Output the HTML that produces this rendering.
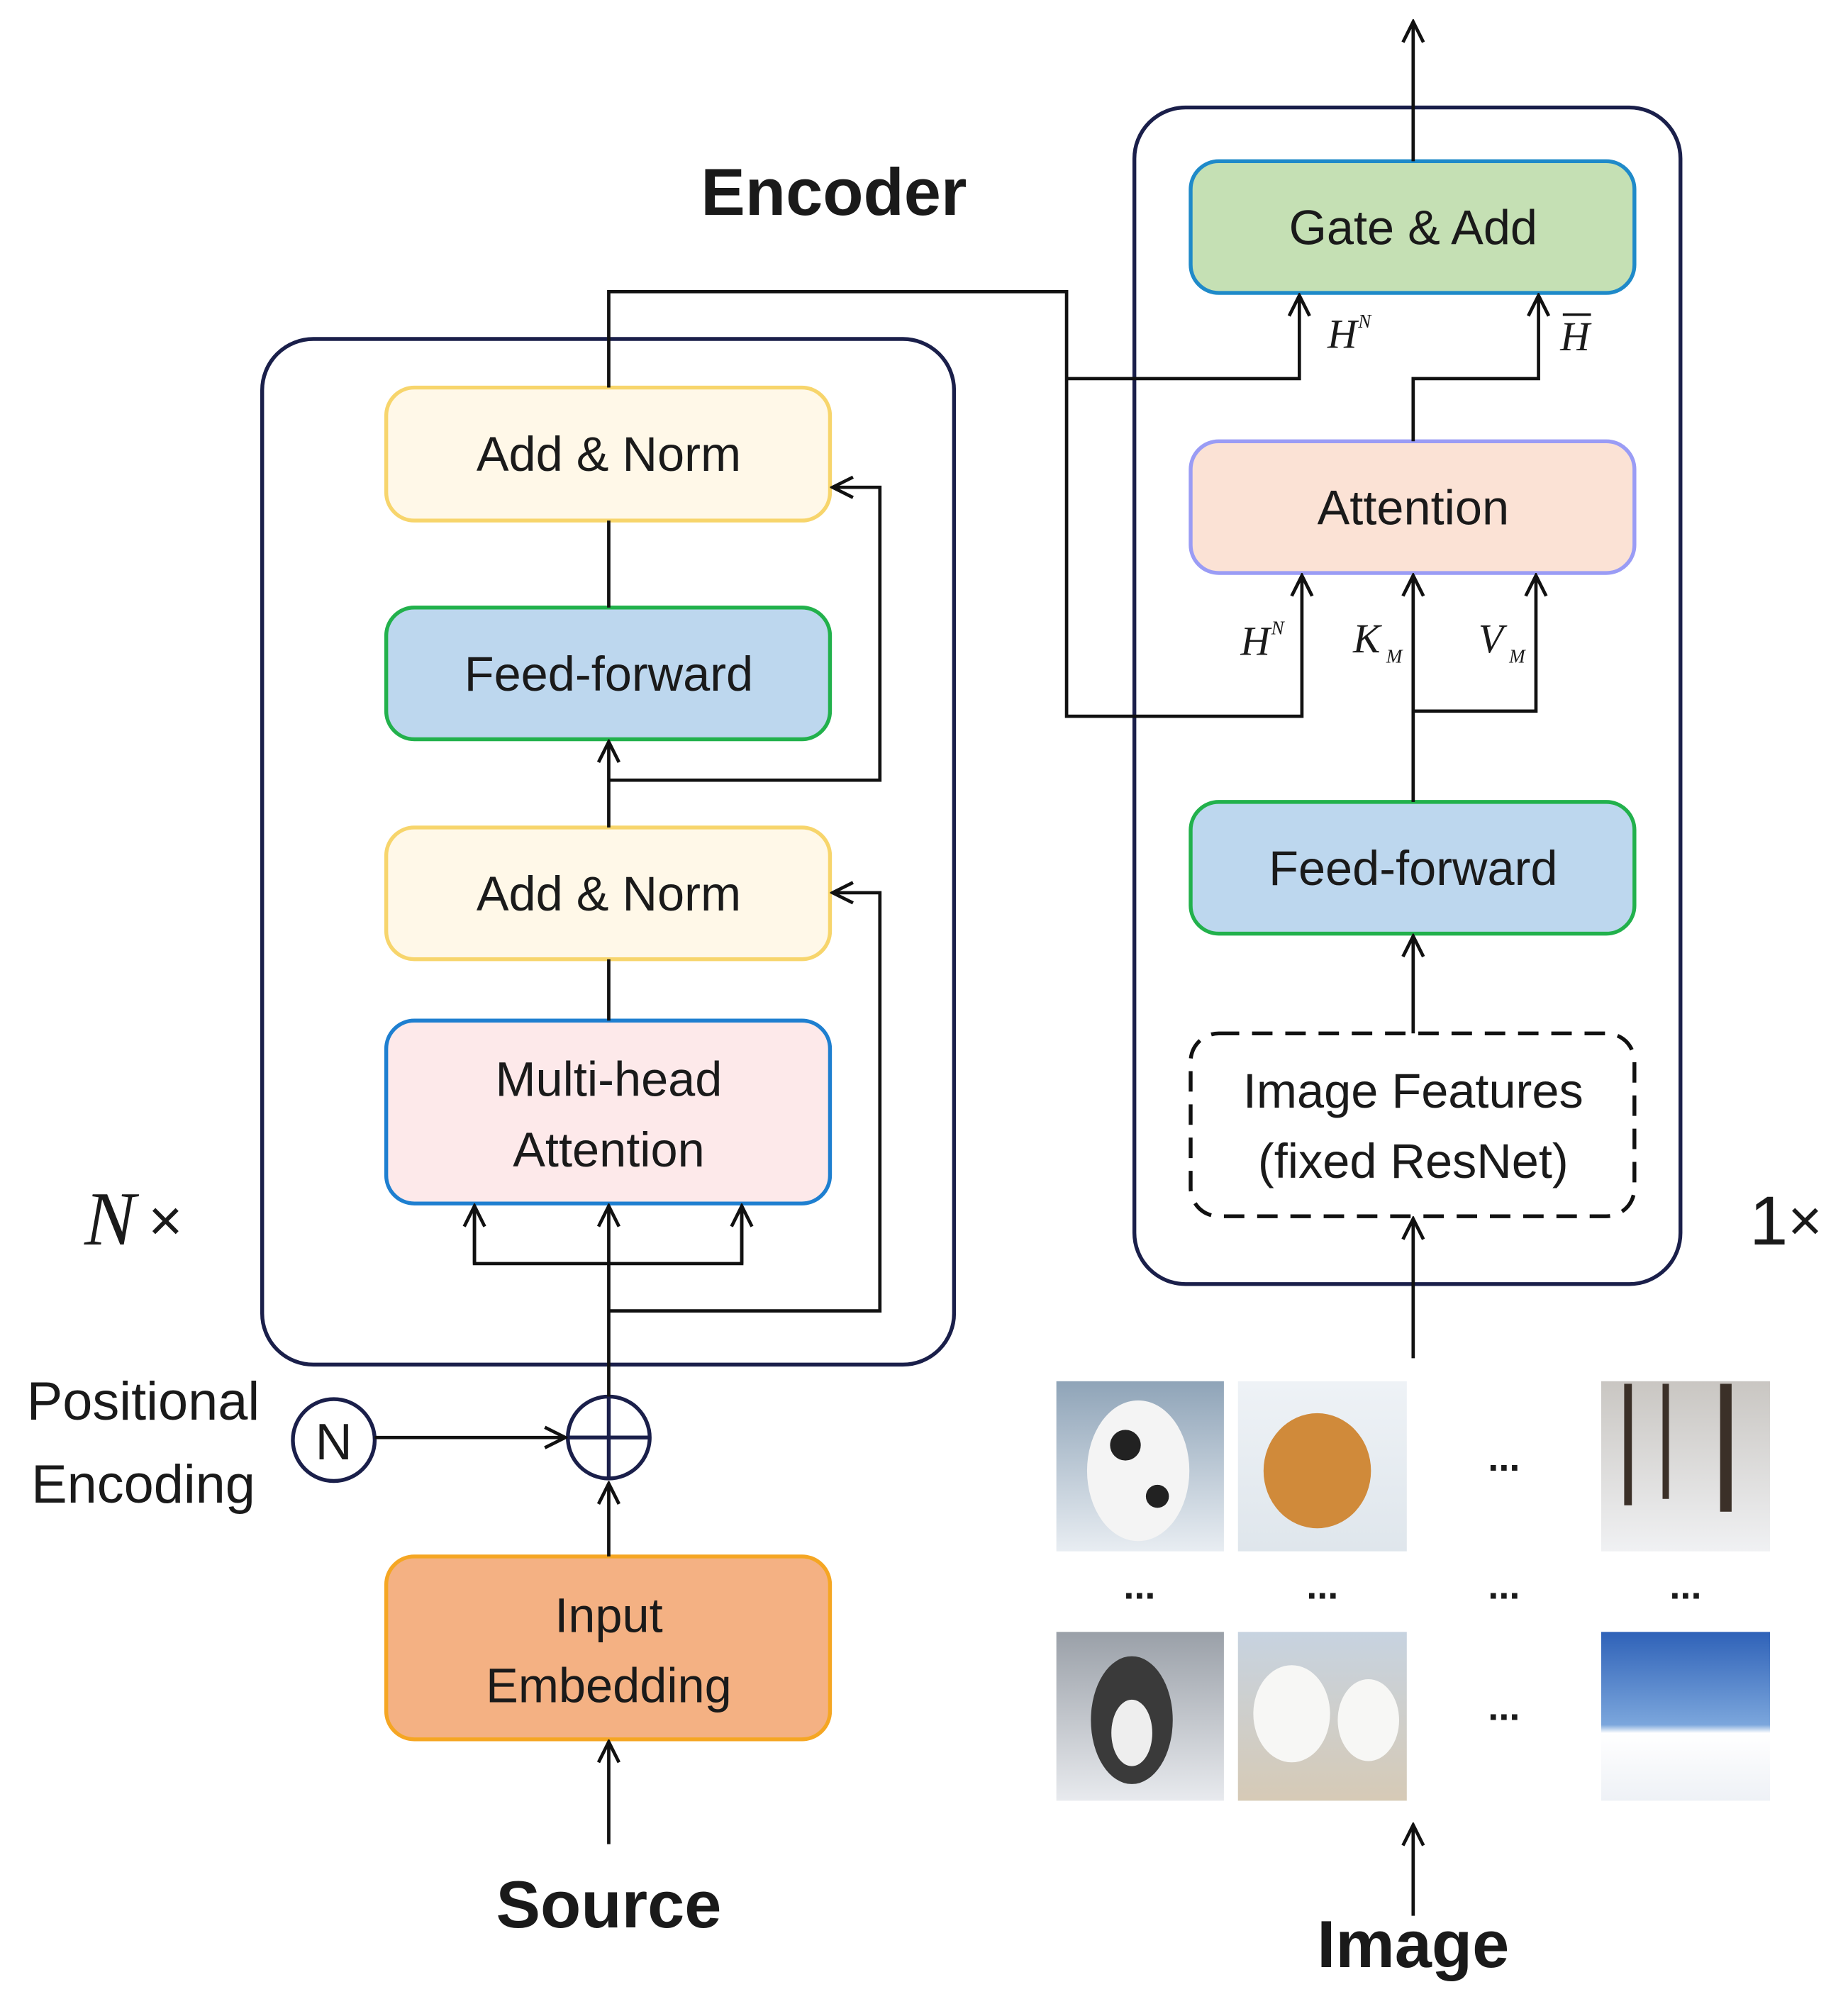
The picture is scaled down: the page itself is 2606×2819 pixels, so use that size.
<!DOCTYPE html>
<html><head><meta charset="utf-8"><style>
html,body{margin:0;padding:0;background:#fff;}
svg{display:block;}
text{font-family:"Liberation Sans","DejaVu Sans",sans-serif;fill:#1a1a1a;}
.it{font-family:"Liberation Serif",serif;font-style:italic;}
</style></head><body>
<svg width="2606" height="2819" viewBox="0 0 1445 1563" xmlns="http://www.w3.org/2000/svg">
<defs>
<marker id="a" viewBox="0 0 20 20" refX="18" refY="10" markerWidth="20" markerHeight="20" markerUnits="userSpaceOnUse" orient="auto">
<path d="M2,2 L18,10 L2,18" fill="none" stroke="#111" stroke-width="2.6"/>
</marker>
<linearGradient id="g1" x1="0" y1="0" x2="0" y2="1"><stop offset="0" stop-color="#8fa4b8"/><stop offset="1" stop-color="#e8edf2"/></linearGradient>
<linearGradient id="g2" x1="0" y1="0" x2="0" y2="1"><stop offset="0" stop-color="#eef2f6"/><stop offset="1" stop-color="#dfe6ec"/></linearGradient>
<linearGradient id="g3" x1="0" y1="0" x2="0" y2="1"><stop offset="0" stop-color="#c9c6c2"/><stop offset="1" stop-color="#f0f1f3"/></linearGradient>
<linearGradient id="g4" x1="0" y1="0" x2="0" y2="1"><stop offset="0" stop-color="#9aa0a8"/><stop offset="1" stop-color="#e8eaee"/></linearGradient>
<linearGradient id="g5" x1="0" y1="0" x2="0" y2="1"><stop offset="0" stop-color="#c7d3e0"/><stop offset="1" stop-color="#d6cab6"/></linearGradient>
<linearGradient id="g6" x1="0" y1="0" x2="0" y2="1"><stop offset="0" stop-color="#2f62b8"/><stop offset="0.55" stop-color="#7ba6dc"/><stop offset="0.6" stop-color="#ffffff"/><stop offset="1" stop-color="#eef1f6"/></linearGradient>
</defs>

<text x="652" y="168" font-size="52" font-weight="bold" text-anchor="middle">Encoder</text>

<rect x="205" y="265" width="541" height="802" rx="40" fill="none" stroke="#1a1f4a" stroke-width="3"/>
<rect x="887" y="84" width="427" height="920" rx="40" fill="none" stroke="#1a1f4a" stroke-width="3"/>

<rect x="302" y="303" width="347" height="104" rx="22" fill="#fff8e8" stroke="#f7d56c" stroke-width="3"/>
<text x="476" y="368" font-size="38" text-anchor="middle">Add &amp; Norm</text>
<rect x="302" y="475" width="347" height="103" rx="22" fill="#bdd7ee" stroke="#22b14c" stroke-width="3"/>
<text x="476" y="540" font-size="38" text-anchor="middle">Feed-forward</text>
<rect x="302" y="647" width="347" height="103" rx="22" fill="#fff8e8" stroke="#f7d56c" stroke-width="3"/>
<text x="476" y="712" font-size="38" text-anchor="middle">Add &amp; Norm</text>
<rect x="302" y="798" width="347" height="143" rx="22" fill="#fde9ea" stroke="#1e7fd0" stroke-width="3"/>
<text x="476" y="857" font-size="38" text-anchor="middle">Multi-head</text>
<text x="476" y="912" font-size="38" text-anchor="middle">Attention</text>
<rect x="302" y="1217" width="347" height="143" rx="22" fill="#f4b183" stroke="#f5a623" stroke-width="3"/>
<text x="476" y="1276" font-size="38" text-anchor="middle">Input</text>
<text x="476" y="1331" font-size="38" text-anchor="middle">Embedding</text>

<rect x="931" y="126" width="347" height="103" rx="22" fill="#c5e0b4" stroke="#1f8ac9" stroke-width="3"/>
<text x="1105" y="191" font-size="38" text-anchor="middle">Gate &amp; Add</text>
<rect x="931" y="345" width="347" height="103" rx="22" fill="#fbe2d5" stroke="#9a9cf5" stroke-width="3"/>
<text x="1105" y="410" font-size="38" text-anchor="middle">Attention</text>
<rect x="931" y="627" width="347" height="103" rx="22" fill="#bdd7ee" stroke="#22b14c" stroke-width="3"/>
<text x="1105" y="692" font-size="38" text-anchor="middle">Feed-forward</text>
<rect x="931" y="808" width="347" height="143" rx="22" fill="#fff" stroke="#111" stroke-width="3" stroke-dasharray="16,10"/>
<text x="1105" y="866" font-size="38" text-anchor="middle">Image Features</text>
<text x="1105" y="921" font-size="38" text-anchor="middle">(fixed ResNet)</text>

<circle cx="261" cy="1126" r="32" fill="#fff" stroke="#1a1f4a" stroke-width="3"/>
<text x="261" y="1141" font-size="40" text-anchor="middle">N</text>
<circle cx="476" cy="1124" r="32" fill="#fff" stroke="#1a1f4a" stroke-width="3"/>
<line x1="444" y1="1124" x2="508" y2="1124" stroke="#1a1f4a" stroke-width="3"/>
<line x1="476" y1="1092" x2="476" y2="1156" stroke="#1a1f4a" stroke-width="3"/>

<g fill="none" stroke="#111" stroke-width="2.6">
<line x1="476" y1="1442" x2="476" y2="1362" marker-end="url(#a)"/>
<line x1="476" y1="1217" x2="476" y2="1160" marker-end="url(#a)"/>
<line x1="293" y1="1124" x2="442" y2="1124" marker-end="url(#a)"/>
<line x1="476" y1="1092" x2="476" y2="943" marker-end="url(#a)"/>
<polyline points="371,943 371,988 580,988 580,943"/>
<line x1="371" y1="988" x2="371" y2="943" marker-end="url(#a)"/>
<line x1="580" y1="988" x2="580" y2="943" marker-end="url(#a)"/>
<polyline points="476,1025 688,1025 688,698 651,698" marker-end="url(#a)"/>
<line x1="476" y1="798" x2="476" y2="750"/>
<line x1="476" y1="647" x2="476" y2="580" marker-end="url(#a)"/>
<polyline points="476,610 688,610 688,381 651,381" marker-end="url(#a)"/>
<line x1="476" y1="475" x2="476" y2="407"/>
<polyline points="476,303 476,228 834,228 834,560 1018,560 1018,450" marker-end="url(#a)"/>
<polyline points="834,296 1016,296 1016,231" marker-end="url(#a)"/>
<polyline points="1105,345 1105,296 1203,296 1203,231" marker-end="url(#a)"/>
<line x1="1105" y1="126" x2="1105" y2="17" marker-end="url(#a)"/>
<line x1="1105" y1="627" x2="1105" y2="450" marker-end="url(#a)"/>
<polyline points="1105,556 1201,556 1201,450" marker-end="url(#a)"/>
<line x1="1105" y1="808" x2="1105" y2="732" marker-end="url(#a)"/>
<line x1="1105" y1="1062" x2="1105" y2="953" marker-end="url(#a)"/>
<line x1="1105" y1="1498" x2="1105" y2="1427" marker-end="url(#a)"/>
</g>

<text class="it" x="1038" y="272" font-size="32">H</text><text class="it" x="1062" y="256" font-size="15">N</text>
<text class="it" x="1220" y="274" font-size="32">H</text><line x1="1222" y1="246" x2="1244" y2="246" stroke="#111" stroke-width="2"/>
<text class="it" x="970" y="512" font-size="32">H</text><text class="it" x="994" y="496" font-size="15">N</text>
<text class="it" x="1058" y="510" font-size="32">K</text><text class="it" x="1084" y="518" font-size="15">M</text>
<text class="it" x="1156" y="510" font-size="32">V</text><text class="it" x="1180" y="518" font-size="15">M</text>

<text class="it" x="66" y="973" font-size="60">N</text><text x="116" y="970" font-size="46">×</text>
<text x="1368" y="973" font-size="54" font-family="Liberation Serif,serif">1</text><text x="1398" y="970" font-size="46">×</text>

<text x="112" y="1110" font-size="42" text-anchor="middle">Positional</text>
<text x="112" y="1175" font-size="42" text-anchor="middle">Encoding</text>

<text x="476" y="1507" font-size="52" font-weight="bold" text-anchor="middle">Source</text>
<text x="1105" y="1538" font-size="52" font-weight="bold" text-anchor="middle">Image</text>

<rect x="826" y="1080" width="131" height="133" fill="url(#g1)"/>
<ellipse cx="890" cy="1150" rx="40" ry="55" fill="#f4f4f4"/><circle cx="880" cy="1130" r="12" fill="#222"/><circle cx="905" cy="1170" r="9" fill="#222"/>
<rect x="968" y="1080" width="132" height="133" fill="url(#g2)"/>
<ellipse cx="1030" cy="1150" rx="42" ry="45" fill="#d08a3a"/>
<rect x="1252" y="1080" width="132" height="133" fill="url(#g3)"/>
<rect x="1270" y="1082" width="6" height="95" fill="#3b3028"/><rect x="1300" y="1082" width="5" height="90" fill="#3b3028"/><rect x="1345" y="1082" width="9" height="100" fill="#3b3028"/>
<rect x="826" y="1276" width="131" height="132" fill="url(#g4)"/>
<ellipse cx="885" cy="1345" rx="32" ry="50" fill="#3a3a3a"/><ellipse cx="885" cy="1355" rx="16" ry="26" fill="#eee"/>
<rect x="968" y="1276" width="132" height="132" fill="url(#g5)"/>
<ellipse cx="1010" cy="1340" rx="30" ry="38" fill="#f7f7f5"/><ellipse cx="1070" cy="1345" rx="24" ry="32" fill="#f7f7f5"/>
<rect x="1252" y="1276" width="132" height="132" fill="url(#g6)"/>

<g font-size="30" font-weight="bold" text-anchor="middle">
<text x="1176" y="1150">...</text>
<text x="891" y="1250">...</text><text x="1034" y="1250">...</text><text x="1176" y="1250">...</text><text x="1318" y="1250">...</text>
<text x="1176" y="1345">...</text>
</g>
</svg>
</body></html>
